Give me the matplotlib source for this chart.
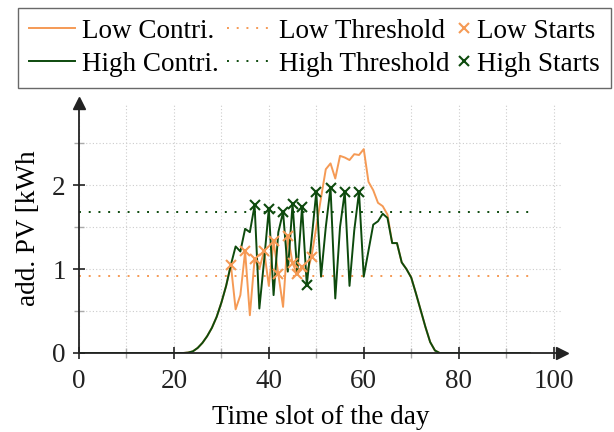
import numpy as np
import matplotlib.pyplot as plt
from matplotlib.legend_handler import HandlerLine2D

plt.rcParams['font.family'] = ['Liberation Serif', 'DejaVu Serif']

slots = np.arange(96)
high_contri = [0] * 23 + [
    0.005, 0.02, 0.06, 0.12, 0.2, 0.3, 0.43, 0.6, 0.8,          # 23-31
    1.05, 1.27, 1.21, 1.48, 1.44, 1.76, 0.53, 1.1, 1.72, 0.69,  # 32-41
    1.44, 1.68, 0.97, 1.78, 0.95, 1.74, 0.81, 1.35, 1.92, 0.91, # 42-51
    1.5, 1.97, 0.65, 1.5, 1.92, 0.8, 1.46, 1.92, 0.91, 1.22,    # 52-61
    1.53, 1.57, 1.66, 1.61, 1.31, 1.31, 1.08, 1.0, 0.9, 0.71,   # 62-71
    0.51, 0.31, 0.13, 0.03] + [0] * 20
low_contri = high_contri[:32] + [
    1.05, 0.52, 0.69, 1.21, 0.45, 1.12, 1.0, 1.22, 0.8, 1.33,   # 32-41
    0.94, 0.55, 1.4, 1.07, 0.94, 1.03, 0.95, 1.15, 1.5, 1.85,   # 42-51
    2.19, 2.26, 2.08, 2.35, 2.33, 2.3, 2.37, 2.36, 2.43, 2.04,  # 52-61
    1.94, 1.79, 1.75, 1.65] + high_contri[66:]
low_threshold = 0.92
high_threshold = 1.68
low_starts = [32, 35, 37, 39, 41, 42, 44, 45, 46, 47, 49]
high_starts = [37, 40, 43, 45, 47, 48, 50, 53, 56, 59]

orange = '#f59a55'
green = '#0d4a0d'


class NarrowHandler(HandlerLine2D):
    # marker-only entries get a short handle, like in the pgfplots legend
    def legend_artist(self, legend, orig_handle, fontsize, handlebox):
        handlebox.width = 0.45 * fontsize
        return super().legend_artist(legend, orig_handle, fontsize, handlebox)


fig = plt.figure(figsize=(6.14, 4.32), dpi=100)
ax = fig.add_axes([0.1287, 0.1829, 0.786, 0.5787])

ax.plot(slots, low_contri, color=orange, lw=1.4, label='Low Contri.')
ax.plot(slots, [low_threshold] * len(slots), color=orange, lw=1.4,
        ls=(0, (1, 4)), label='Low Threshold')
ax.plot(slots, high_contri, color=green, lw=1.4, label='High Contri.')
ax.plot(slots, [high_threshold] * len(slots), color=green, lw=1.4,
        ls=(0, (1, 4)), label='High Threshold')
ls_y = [low_contri[i] for i in low_starts]
hs_y = [high_contri[i] for i in high_starts]
ax.plot(low_starts, ls_y, ls='none', marker='x', ms=7, mew=1.5, color=orange,
        label='Low Starts')
ax.plot(high_starts, hs_y, ls='none', marker='x', ms=7, mew=1.5, color=green,
        label='High Starts')

ax.set_xlim(0, 101.7)
ax.set_ylim(0, 2.98)
ax.set_xticks([0, 20, 40, 60, 80, 100])
ax.set_xticks([10, 30, 50, 70, 90], minor=True)
ax.set_yticks([0, 1, 2])
ax.set_yticks([0.5, 1.5, 2.5], minor=True)
ax.tick_params(which='major', direction='inout', length=9, width=1.2,
               labelsize=19.5, colors='#222222')
ax.tick_params(which='minor', direction='inout', length=7, width=1.0,
               color='#aaaaaa')
ax.tick_params(axis='x', pad=7)
ax.tick_params(axis='y', pad=5)
ax.grid(which='both', ls=(0, (1, 2)), color='#cccccc', lw=0.8)
ax.set_axisbelow(True)

for s in ['top', 'right']:
    ax.spines[s].set_visible(False)
for s in ['left', 'bottom']:
    ax.spines[s].set_linewidth(1.3)
    ax.spines[s].set_color('#222222')
ax.plot(1, 0, '>', color='#222222', ms=8, transform=ax.get_yaxis_transform(),
        clip_on=False)
ax.plot(0, 1, '^', color='#222222', ms=8, transform=ax.get_xaxis_transform(),
        clip_on=False)

ax.set_xlabel('Time slot of the day', fontsize=19.5, labelpad=8)
ax.set_ylabel('add. PV [kWh', fontsize=19.5, labelpad=8)

h, l = ax.get_legend_handles_labels()
order = [0, 2, 1, 3, 4, 5]
leg = fig.legend([h[i] for i in order], [l[i] for i in order], ncol=3,
                 loc='upper left', bbox_to_anchor=(18 / 614, 1 - 8 / 432),
                 borderaxespad=0, fontsize=19.5, frameon=True, fancybox=False,
                 edgecolor='#444444', handlelength=1.7, handletextpad=0.25,
                 columnspacing=0.3, labelspacing=0.3, borderpad=0.4,
                 handler_map={h[4]: NarrowHandler(), h[5]: NarrowHandler()})
leg.get_frame().set_linewidth(1.0)

fig.savefig('out.png', dpi=100)
